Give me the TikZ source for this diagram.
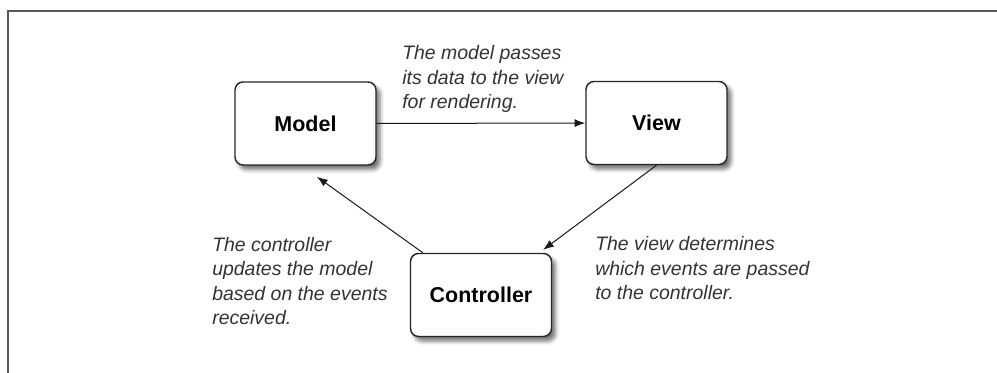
\documentclass[tikz,border=0pt]{standalone}
\usepackage{fontspec}
\setmainfont{Liberation Sans}
\usetikzlibrary{shadows.blur,arrows.meta}
\begin{document}
\begin{tikzpicture}[x=0.75pt,y=-0.75pt,
  box/.style={draw=black!85, line width=1.1pt, rounded corners=6pt, fill=white,
    minimum width=105.75pt, minimum height=62.25pt, inner sep=0pt,
    font=\fontsize{16.1}{19}\selectfont\bfseries,
    blur shadow={shadow xshift=3pt, shadow yshift=-3.5pt, shadow blur radius=3pt, shadow opacity=55}},
  note/.style={font=\fontsize{14.6}{18.4}\selectfont\itshape, text=black!80, align=left, inner sep=0pt, anchor=base west},
  arr/.style={-{Latex[length=8pt,width=6pt]}, line width=0.75pt, draw=black!90},
  frame/.style={draw=black!65, line width=1.5pt}]
\useasboundingbox (0,0) rectangle (997,373);
\draw[frame] (7.5,373) -- (7.5,11) -- (997,11);
\node[box] (model) at (305.5,123.5) {Model};
\node[box] (view) at (656.5,123) {View};
\node[box] (ctrl) at (481,295) {Controller};
\coordinate (mtip) at ([shift={(8.6pt,-8.3pt)}]model.south);
\coordinate (ctip) at ([shift={(-6.8pt,2.2pt)}]ctrl.north east);
\coordinate (cstart) at ([xshift=9.8pt]ctrl.north west);
\draw[arr] (model) -- (view);
\draw[arr] (view.south) -- (ctip);
\draw[arr] (cstart) -- (mtip);
\node[note] (t1) at (402,109) {The model passes\\its data to the view\\for rendering.};
\node[note] (t2) at (595,300) {The view determines\\which events are passed\\to the controller.};
\node[note] (t3) at (212,325) {The controller\\updates the model\\based on the events\\received.};
\end{tikzpicture}
\end{document}
